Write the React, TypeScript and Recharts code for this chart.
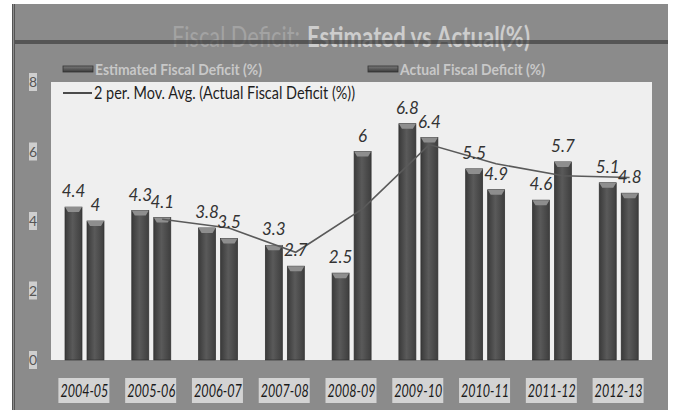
import {
  ComposedChart,
  Bar,
  Line,
  XAxis,
  YAxis,
  CartesianGrid,
  LabelList,
} from "recharts";

const categories = [
  "2004-05",
  "2005-06",
  "2006-07",
  "2007-08",
  "2008-09",
  "2009-10",
  "2010-11",
  "2011-12",
  "2012-13",
];
const estimated = [4.4, 4.3, 3.8, 3.3, 2.5, 6.8, 5.5, 4.6, 5.1];
const actual = [4, 4.1, 3.5, 2.7, 6, 6.4, 4.9, 5.7, 4.8];
// 2-period moving average of actual
const movingAvg = [null, 4.05, 3.8, 3.1, 4.35, 6.2, 5.65, 5.3, 5.25];
const yTicks = [0, 2, 4, 6, 8];

const data = categories.map((name, i) => ({
  name,
  estimated: estimated[i],
  actual: actual[i],
  ma: movingAvg[i],
}));

const font = "Lato, 'Open Sans', sans-serif";
const frameGray = "#8b8b8b";

function BevelBar(props: any) {
  const { x, y, width, height } = props;
  if (!height || height <= 0) return null;
  return (
    <g>
      <rect
        x={x}
        y={y}
        width={width}
        height={height}
        fill="url(#barGrad)"
        stroke="#2e2e2e"
        strokeWidth={0.7}
      />
      <polygon
        points={`${x},${y} ${x + width},${y} ${x + width - 3},${y + 5} ${x + 3},${y + 5}`}
        fill="#8e8e8e"
      />
    </g>
  );
}

function XTick(props: any) {
  const { x, y, payload } = props;
  return (
    <g>
      <rect x={x - 26} y={y + 10} width={51} height={25} fill="#d3d3d3" />
      <text
        x={x - 24}
        y={y + 29}
        textLength={48}
        lengthAdjust="spacingAndGlyphs"
        fontFamily={font}
        fontStyle="italic"
        fontSize={18}
        fill="#1a1a1a"
      >
        {payload.value}
      </text>
    </g>
  );
}

function YTick(props: any) {
  const { x, y, payload } = props;
  return (
    <g>
      <rect x={x - 14} y={y - 9} width={8} height={18} fill="#cfcfcf" />
      <text
        x={x - 10}
        y={y + 5}
        textAnchor="middle"
        fontFamily={font}
        fontSize={14}
        fill="#555"
      >
        {payload.value}
      </text>
    </g>
  );
}

function Swatch({ x, y }: { x: number; y: number }) {
  return (
    <rect x={x} y={y} width={30} height={6} fill="url(#swGrad)" stroke="#333" strokeWidth={0.8} />
  );
}

export default function App() {
  return (
    <div
      style={{
        position: "absolute",
        left: 0,
        top: 0,
        width: 678,
        height: 412,
        background: "#fff",
        overflow: "hidden",
      }}
    >
      <style>{`.ma-line { transform: translateX(11px); }`}</style>
      <div
        style={{
          position: "absolute",
          left: 12,
          top: 4,
          width: 656,
          height: 406,
          background: frameGray,
          borderLeft: "3px double #555",
          boxSizing: "border-box",
        }}
      />
      <div style={{ position: "absolute", left: 0, top: 0 }}>
        <ComposedChart
          width={678}
          height={412}
          data={data}
          margin={{ top: 82, right: 26, bottom: 12, left: 11 }}
          barSize={17}
          barGap={5}
        >
          <defs>
            <linearGradient id="barGrad" x1="0" y1="0" x2="1" y2="0">
              <stop offset="0%" stopColor="#3a3a3a" />
              <stop offset="45%" stopColor="#5a5a5a" />
              <stop offset="100%" stopColor="#3e3e3e" />
            </linearGradient>
          </defs>
          <CartesianGrid horizontal={false} vertical={false} fill="#efefef" />
          <XAxis
            dataKey="name"
            axisLine={false}
            tickLine={false}
            height={40}
            interval={0}
            tick={<XTick />}
          />
          <YAxis
            domain={[0, 8]}
            ticks={yTicks}
            width={40}
            axisLine={false}
            tickLine={false}
            tick={<YTick />}
          />
          <Bar dataKey="estimated" shape={<BevelBar />} isAnimationActive={false}>
            <LabelList
              dataKey="estimated"
              position="top"
              offset={10}
              fontFamily={font}
              fontStyle="italic"
              fontSize={17}
              fill="#333"
            />
          </Bar>
          <Bar dataKey="actual" shape={<BevelBar />} isAnimationActive={false}>
            <LabelList
              dataKey="actual"
              position="top"
              offset={10}
              fontFamily={font}
              fontStyle="italic"
              fontSize={17}
              fill="#333"
            />
          </Bar>
          <Line
            className="ma-line"
            dataKey="ma"
            type="linear"
            stroke="#5a5a5a"
            strokeWidth={1.6}
            dot={false}
            activeDot={false}
            connectNulls
            isAnimationActive={false}
          />
        </ComposedChart>
      </div>
      {/* title and legend */}
      <svg
        width={678}
        height={412}
        style={{ position: "absolute", left: 0, top: 0, pointerEvents: "none" }}
      >
        <defs>
          <linearGradient id="swGrad" x1="0" y1="0" x2="0" y2="1">
            <stop offset="0%" stopColor="#7a7a7a" />
            <stop offset="100%" stopColor="#3a3a3a" />
          </linearGradient>
        </defs>
        <g transform="translate(172 47) scale(1 1.25)">
          <text
            x={0}
            y={0}
            textLength={128}
            lengthAdjust="spacingAndGlyphs"
            fontFamily={font}
            fontSize={23}
            fill="#a3a3a3"
          >
            Fiscal Deficit:
          </text>
          <text
            x={135}
            y={0}
            textLength={223}
            lengthAdjust="spacingAndGlyphs"
            fontFamily={font}
            fontSize={22.5}
            fontWeight="bold"
            fill="#cdcdcd"
          >
            Estimated vs Actual(%)
          </text>
        </g>
        {/* scanner streak across the title */}
        <rect x={15} y={40} width={653} height={4} fill="#3e3e3e" opacity={0.7} />
        <Swatch x={63} y={66} />
        <text
          x={95}
          y={75}
          textLength={167}
          lengthAdjust="spacingAndGlyphs"
          fontFamily={font}
          fontSize={16}
          fontWeight="bold"
          fill="#c8c8c8"
        >
          Estimated Fiscal Deficit (%)
        </text>
        <Swatch x={368} y={66} />
        <text
          x={400}
          y={75}
          textLength={145}
          lengthAdjust="spacingAndGlyphs"
          fontFamily={font}
          fontSize={16}
          fontWeight="bold"
          fill="#c8c8c8"
        >
          Actual Fiscal Deficit (%)
        </text>
        <line x1={63} y1={93} x2={92} y2={93} stroke="#222" strokeWidth={1.6} />
        <text
          x={94}
          y={99}
          textLength={261}
          lengthAdjust="spacingAndGlyphs"
          fontFamily={font}
          fontSize={17}
          fill="#1e1e1e"
        >
          2 per. Mov. Avg. (Actual Fiscal Deficit (%))
        </text>
      </svg>
    </div>
  );
}
